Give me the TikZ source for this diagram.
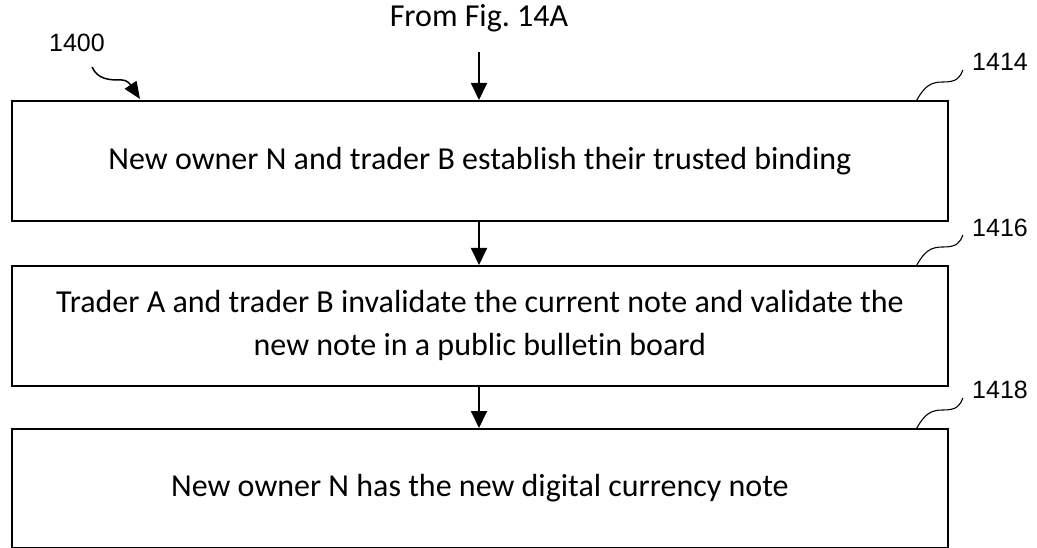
\documentclass[tikz,border=0pt]{standalone}
\usepackage{fontspec}
\setmainfont{Carlito}[Ligatures=NoCommon]
\newfontfamily\numfont{Liberation Sans}
\usetikzlibrary{arrows.meta}
\frenchspacing
\begin{document}
\begin{tikzpicture}[x=1pt,y=-1pt,
  stepbox/.style={draw,line width=1.8pt,minimum width=936pt,anchor=north west,inner sep=0pt,align=center,font=\fontsize{32}{43}\selectfont},
  flow/.style={line width=1.8pt,-{Triangle[length=17pt,width=16pt]}},
  refnum/.style={font=\numfont\fontsize{25}{28}\selectfont,inner sep=0pt},
  squig/.style={line width=1.1pt}]
\useasboundingbox (0,0) rectangle (1037,548);
\node[stepbox,minimum height=120pt] (b1) at (11,100) {New owner N and trader B establish their trusted binding};
\node[stepbox,minimum height=120pt] (b2) at (11,265) {Trader A and trader B invalidate the current note and validate the\\new note in a public bulletin board};
\node[stepbox,minimum height=119pt] (b3) at (11,428) {New owner N has the new digital currency note};
\node[font=\fontsize{32}{36}\selectfont,inner sep=0pt] (from) at (479,18) {From Fig. 14A};
\coordinate (fs) at (479,52);
\draw[flow] (fs) -- (b1.north -| fs);
\draw[flow] (b1.south -| fs) -- (b2.north -| fs);
\draw[flow] (b2.south -| fs) -- (b3.north -| fs);
\node[refnum] (n1400) at (77,43) {1400};
\coordinate (a0) at (92,67);
\coordinate (a1) at (140,99);
\draw[line width=1.5pt,-{Triangle[length=17pt,width=14pt]}] (a0) .. controls (98,80) and (110,80) .. (122,80) .. controls (127,80) and (130,84) .. (a1);
\node[refnum] (n1414) at (1000,62) {1414};
\node[refnum] (n1416) at (1000,228) {1416};
\node[refnum] (n1418) at (1000,390) {1418};
\foreach \b/\n in {b1/n1414,b2/n1416,b3/n1418}{
  \coordinate (s0) at ([xshift=-32pt]\b.north east);
  \draw[squig] (s0) .. controls ([shift={(8,-14)}]s0) and ([shift={(14,-18)}]s0) .. ([shift={(26,-18)}]s0)
    .. controls ([shift={(40,-18)}]s0) and ([shift={(43,-22)}]s0) .. ([shift={(46,-30)}]s0);
}
\end{tikzpicture}
\end{document}
